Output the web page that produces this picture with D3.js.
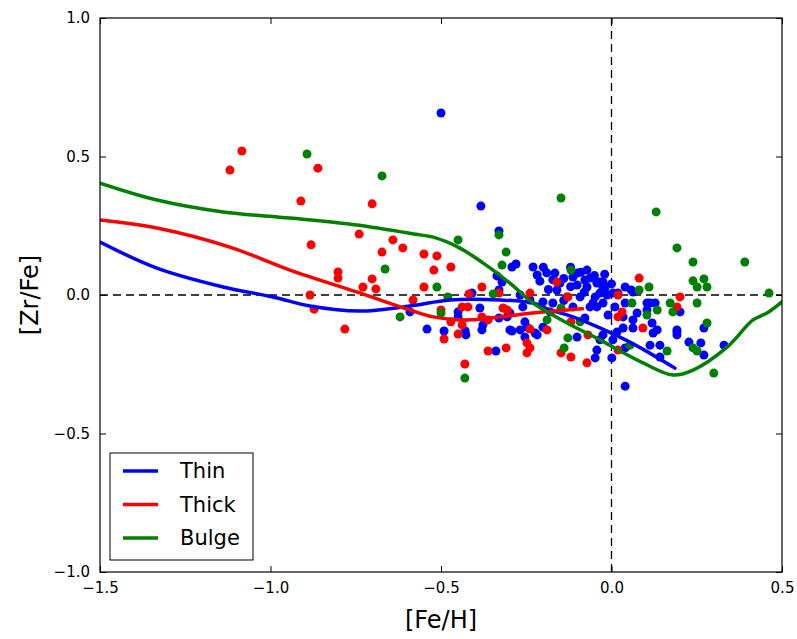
<!DOCTYPE html>
<html>
<head>
<meta charset="utf-8">
<script src="https://cdn.jsdelivr.net/npm/d3@7"></script>
<style>
  body { margin: 0; background: #fff; }
  text { font-family: "DejaVu Sans", sans-serif; fill: #000; }
</style>
</head>
<body>
<div id="chart"></div>
<script>
//Data ([Fe/H], [Zr/Fe])
const thinDots = [[-0.500,0.657],[-0.383,0.321],[-0.330,0.231],[-0.292,0.101],[-0.280,0.112],[-0.230,0.101],
  [-0.218,0.072],[-0.336,0.069],[-0.321,0.047],[-0.330,0.018],[-0.409,0.007],[-0.591,-0.061],[-0.541,-0.123],
  [-0.218,-0.144],[-0.254,-0.097],[-0.248,-0.116],[-0.292,-0.130],[-0.339,-0.202],[-0.491,-0.130],[-0.429,-0.130],
  [-0.427,-0.144],[-0.380,-0.126],[-0.377,-0.108],[-0.330,-0.083],[-0.306,-0.079],[-0.386,-0.047],[-0.450,-0.061],
  [-0.450,-0.079],[-0.048,-0.227],[-0.043,-0.199],[-0.166,0.079],[-0.151,0.043],[-0.160,0.018],[-0.113,0.065],
  [-0.101,0.036],[-0.072,0.090],[-0.063,0.061],[-0.072,0.029],[-0.048,-0.007],[-0.063,-0.043],[-0.043,-0.043],
  [-0.092,-0.007],[-0.130,-0.007],[-0.113,-0.043],[-0.172,-0.029],[-0.180,-0.061],[-0.201,-0.025],[-0.239,-0.018],
  [-0.268,0.000],[-0.260,-0.043],[-0.298,-0.065],[-0.298,-0.126],[-0.268,-0.126],[-0.254,-0.152],[-0.224,-0.137],
  [-0.201,-0.116],[-0.101,-0.152],[-0.034,-0.162],[-0.078,-0.083],[-0.043,0.043],[-0.025,0.047],[-0.019,0.025],
  [-0.034,0.007],[-0.013,0.000],[-0.054,-0.029],[-0.025,-0.029],[0.004,0.007],[0.019,0.007],[0.040,0.029],
  [0.063,0.011],[0.040,-0.029],[0.010,-0.043],[-0.010,-0.072],[0.034,-0.079],[0.063,-0.090],[0.075,-0.065],
  [0.113,-0.029],[0.128,-0.029],[0.104,-0.054],[0.119,-0.101],[0.134,-0.126],[0.063,-0.119],[0.034,-0.119],
  [0.016,-0.134],[0.004,-0.162],[-0.025,-0.144],[0.001,-0.227],[0.040,-0.191],[0.113,-0.181],[0.142,-0.181],
  [0.142,-0.224],[0.192,-0.134],[0.040,-0.329],[0.201,-0.061],[0.122,-0.137],[0.192,-0.126],[0.192,-0.144],
  [0.271,-0.119],[0.227,-0.170],[0.262,-0.173],[0.271,-0.217],[0.330,-0.181],[-0.101,0.079],[-0.078,0.054],
  [-0.034,0.047],[-0.025,0.029],[0.058,0.018],[0.104,-0.029],
  [-0.190,0.080],[-0.140,0.060],[-0.120,0.030],[-0.090,0.082],[-0.050,0.070],[-0.020,0.075],[-0.172,0.055],
  [-0.210,0.050],[-0.185,0.020],[-0.140,-0.020],[-0.080,0.010],[0.000,0.040],[-0.120,0.100],[-0.200,0.100]];

const thickDots = [[-1.119,0.451],[-1.084,0.520],[-0.861,0.458],[-0.911,0.339],[-0.881,0.181],[-0.884,0.000],
  [-0.872,-0.051],[-0.782,-0.123],[-0.802,0.083],[-0.802,0.061],[-0.740,0.220],[-0.702,0.329],[-0.641,0.199],
  [-0.612,0.170],[-0.673,0.155],[-0.550,0.148],[-0.702,0.058],[-0.729,0.029],[-0.691,0.022],[-0.550,0.029],
  [-0.582,-0.018],[-0.512,0.141],[-0.521,0.090],[-0.471,0.101],[-0.380,0.029],[-0.330,0.007],[-0.418,0.004],
  [-0.160,0.047],[-0.128,-0.007],[-0.119,-0.097],[-0.189,-0.126],[-0.148,-0.209],[-0.119,-0.224],[-0.072,-0.245],
  [-0.239,-0.123],[-0.248,-0.173],[-0.239,-0.191],[-0.248,-0.209],[-0.309,-0.191],[-0.362,-0.202],[-0.430,-0.249],
  [-0.491,-0.159],[-0.450,-0.141],[-0.471,-0.097],[-0.438,-0.108],[-0.362,-0.090],[-0.380,-0.079],[-0.318,-0.047],
  [-0.306,-0.054],[-0.438,-0.043],[-0.421,-0.043],[-0.500,-0.054],[-0.239,0.007],[-0.069,-0.144],[0.081,0.061],
  [0.201,-0.007],[0.192,-0.043],[0.019,0.000],[0.031,-0.061],[0.019,-0.079],[0.092,-0.119],[0.019,-0.199]];

const bulgeDots = [[-0.893,0.509],[-0.673,0.430],[-0.664,0.094],[-0.620,-0.079],[-0.450,0.199],[-0.148,0.350],
  [-0.330,0.217],[-0.309,0.155],[-0.321,0.108],[-0.512,0.029],[-0.347,0.004],[-0.480,-0.007],[-0.119,0.090],
  [-0.148,-0.047],[-0.092,-0.097],[-0.189,-0.090],[-0.128,-0.155],[-0.139,-0.191],[-0.430,-0.300],[-0.500,-0.065],
  [0.081,0.018],[0.110,0.029],[0.060,-0.029],[0.104,-0.072],[0.134,-0.054],[0.131,0.300],[0.192,0.170],
  [0.239,0.119],[0.391,0.119],[0.239,0.051],[0.271,0.058],[0.251,0.029],[0.280,0.029],[0.462,0.007],
  [0.251,-0.029],[0.172,-0.029],[0.180,-0.061],[0.280,-0.101],[0.163,-0.202],[0.239,-0.191],[0.251,-0.202],
  [0.300,-0.282],[0.054,-0.181]];

const thinModel = [[-1.5,0.191],[-1.333,0.097],[-1.139,0.029],[-0.993,-0.007],[-0.884,-0.040],[-0.738,-0.058],
  [-0.591,-0.040],[-0.474,-0.018],[-0.327,-0.018],[-0.230,-0.029],[-0.18,-0.054],[-0.113,-0.079],[-0.034,-0.119],
  [0.069,-0.18],[0.186,-0.264]];
const thickModel = [[-1.5,0.271],[-1.333,0.242],[-1.119,0.173],[-0.943,0.09],[-0.747,0.011],[-0.591,-0.054],
  [-0.523,-0.079],[-0.424,-0.090],[-0.327,-0.079],[-0.230,-0.065],[-0.130,-0.054],[-0.085,-0.05]];
const bulgeModel = [[-1.5,0.404],[-1.333,0.343],[-1.139,0.30],[-0.943,0.278],[-0.747,0.253],[-0.562,0.217],
  [-0.523,0.209],[-0.45,0.173],[-0.377,0.116],[-0.298,0.043],[-0.230,-0.029],[-0.130,-0.101],[-0.034,-0.162],
  [0.092,-0.245],[0.18,-0.289],[0.239,-0.271],[0.339,-0.188],[0.415,-0.09],[0.456,-0.065],[0.5,-0.025]];

const xTickVals = [-1.5, -1.0, -0.5, 0.0, 0.5];
const yTickVals = [-1.0, -0.5, 0.0, 0.5, 1.0];

const series = [
  {name: 'Thin', color: '#0000ff', dots: thinDots, model: thinModel},
  {name: 'Thick', color: '#ff0000', dots: thickDots, model: thickModel},
  {name: 'Bulge', color: '#008000', dots: bulgeDots, model: bulgeModel}
];

//Layout
const margin = {top: 18, right: 15, bottom: 67, left: 100};
const width = 797 - margin.left - margin.right;
const height = 639 - margin.top - margin.bottom;

const x = d3.scaleLinear().domain([-1.5, 0.5]).range([0, width]);
const y = d3.scaleLinear().domain([-1, 1]).range([height, 0]);
const fmt = d => d3.format('.1f')(d).replace('-', '\u2212');

const svg = d3.select('#chart').append('svg')
  .attr('width', 797).attr('height', 639);
const g = svg.append('g').attr('transform', `translate(${margin.left},${margin.top})`);

g.append('defs').append('clipPath').attr('id', 'clip')
  .append('rect').attr('width', width).attr('height', height);

//Reference lines
g.append('line').attr('x1', 0).attr('x2', width).attr('y1', y(0)).attr('y2', y(0))
  .attr('stroke', '#000').attr('stroke-width', 1.3).attr('stroke-dasharray', '8,5');
g.append('line').attr('x1', x(0)).attr('x2', x(0)).attr('y1', 0).attr('y2', height)
  .attr('stroke', '#000').attr('stroke-width', 1.3).attr('stroke-dasharray', '8,5');

//Scatter
const plot = g.append('g').attr('clip-path', 'url(#clip)');
series.forEach(s => {
  plot.append('g').selectAll('circle')
    .data(s.dots).enter().append('circle')
    .attr('cx', d => x(d[0])).attr('cy', d => y(d[1]))
    .attr('r', 4.5).attr('fill', s.color);
});

//Model lines
const line = d3.line().x(d => x(d[0])).y(d => y(d[1])).curve(d3.curveCatmullRom.alpha(0.5));
series.forEach(s => {
  plot.append('path').attr('d', line(s.model))
    .attr('fill', 'none').attr('stroke', s.color).attr('stroke-width', 3.5)
    .attr('stroke-linecap', 'round');
});

//Axes (ticks inward on all sides)
const tick = 6;
g.append('g').attr('transform', `translate(0,${height})`)
  .call(d3.axisBottom(x).tickValues(xTickVals).tickSizeInner(-tick).tickSizeOuter(0).tickPadding(10).tickFormat(fmt));
g.append('g').call(d3.axisTop(x).tickValues(xTickVals).tickSizeInner(-tick).tickSizeOuter(0).tickFormat(''));
g.append('g').call(d3.axisLeft(y).tickValues(yTickVals).tickSizeInner(-tick).tickSizeOuter(0).tickPadding(10).tickFormat(fmt));
g.append('g').attr('transform', `translate(${width},0)`)
  .call(d3.axisRight(y).tickValues(yTickVals).tickSizeInner(-tick).tickSizeOuter(0).tickFormat(''));
g.selectAll('.domain').remove();
g.selectAll('.tick text').style('font-size', '15px').style('font-family', '"DejaVu Sans", sans-serif').attr('fill', '#000');

g.append('rect').attr('width', width).attr('height', height)
  .attr('fill', 'none').attr('stroke', '#000').attr('stroke-width', 1.2);

//Axis labels
svg.append('text').attr('x', margin.left + width / 2).attr('y', 628)
  .attr('text-anchor', 'middle').style('font-size', '24px').text('[Fe/H]');
svg.append('text').attr('transform', `translate(38,${margin.top + height / 2}) rotate(-90)`)
  .attr('text-anchor', 'middle').style('font-size', '24px').text('[Zr/Fe]');

//Legend
const lg = g.append('g').attr('transform', 'translate(10,435)');
lg.append('rect').attr('width', 143).attr('height', 107)
  .attr('fill', '#fff').attr('stroke', '#000').attr('stroke-width', 1);
series.forEach((s, i) => {
  const yy = 18 + i * 33.5;
  lg.append('line').attr('x1', 13).attr('x2', 48).attr('y1', yy).attr('y2', yy)
    .attr('stroke', s.color).attr('stroke-width', 3.5);
  lg.append('text').attr('x', 70).attr('y', yy + 7).style('font-size', '21px').text(s.name);
});
</script>
</body>
</html>
